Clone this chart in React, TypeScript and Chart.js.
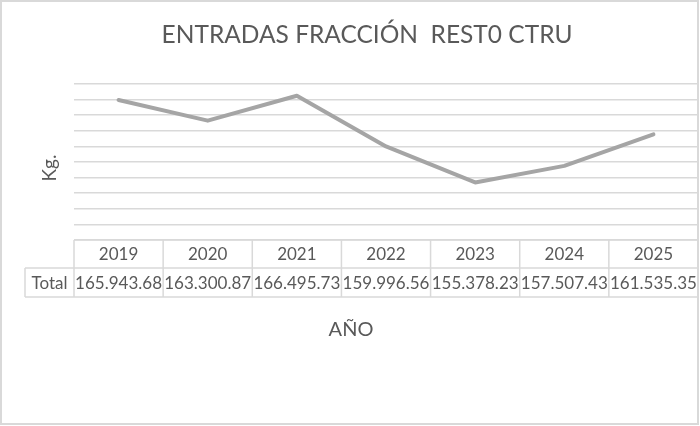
import React, { useEffect, useRef } from "react";
import { Chart, registerables } from "chart.js";

Chart.register(...registerables);

const years = ["2019", "2020", "2021", "2022", "2023", "2024", "2025"];
const totals = [165943.68, 163300.87, 166495.73, 159996.56, 155378.23, 157507.43, 161535.35];
const seriesLabel = "Total";
const chartTitle = "ENTRADAS FRACCIÓN  REST0 CTRU";
const yTitle = "Kg.";
const xTitle = "AÑO";
const yMin = 148000;
const yMax = 168000;
const yStep = 2000;

const FONT = "Lato, 'Open Sans', sans-serif";
const TEXT = "#595959";
const GRID = "#d9d9d9";

function fmt(v: number): string {
  const [i, d] = v.toFixed(2).split(".");
  const withSep = i.replace(/\B(?=(\d{3})+(?!\d))/g, ".");
  return withSep + "." + d;
}

const decorPlugin = {
  id: "decor",
  beforeDraw(chart: any) {
    const ctx = chart.ctx;
    ctx.save();
    ctx.fillStyle = "#ffffff";
    ctx.fillRect(0, 0, chart.width, chart.height);
    ctx.restore();
  },
  afterDraw(chart: any) {
    const ctx = chart.ctx;
    const area = chart.chartArea;
    const n = years.length;
    const colW = (area.right - area.left) / n;
    const r0 = area.bottom;
    const r1 = r0 + 28;
    const r2 = r1 + 29;
    const labelLeft = 25;
    ctx.save();
    // table borders
    ctx.strokeStyle = GRID;
    ctx.lineWidth = 1.5;
    ctx.beginPath();
    ctx.moveTo(area.left, r0);
    ctx.lineTo(area.right, r0);
    ctx.moveTo(labelLeft, r1);
    ctx.lineTo(area.right, r1);
    ctx.moveTo(labelLeft, r2);
    ctx.lineTo(area.right, r2);
    ctx.moveTo(labelLeft, r1);
    ctx.lineTo(labelLeft, r2);
    for (let i = 0; i <= n; i++) {
      const x = area.left + i * colW;
      ctx.moveTo(x, r0);
      ctx.lineTo(x, r2);
    }
    ctx.stroke();

    // table texts
    ctx.fillStyle = TEXT;
    ctx.textAlign = "center";
    ctx.textBaseline = "middle";
    ctx.font = `17px ${FONT}`;
    const xs = chart.scales.x;
    years.forEach((y, i) => {
      const cx = xs.getPixelForValue(i);
      ctx.fillText(y, cx, (r0 + r1) / 2 + 1);
      ctx.fillText(fmt(totals[i]), cx, (r1 + r2) / 2 + 1);
    });
    ctx.fillText(seriesLabel, (labelLeft + area.left) / 2, (r1 + r2) / 2 + 1);

    // titles
    ctx.font = `24.5px ${FONT}`;
    ctx.fillText(chartTitle, 367, 35);
    ctx.font = `20px ${FONT}`;
    ctx.fillText(xTitle, 351, 330);
    ctx.save();
    ctx.translate(50, 168);
    ctx.rotate(-Math.PI / 2);
    ctx.font = `19px ${FONT}`;
    ctx.fillText(yTitle, 0, 0);
    ctx.restore();

    // outer frame
    ctx.strokeStyle = GRID;
    ctx.lineWidth = 2;
    ctx.strokeRect(1, 1, 697, 423);
    ctx.restore();
  },
};

export default function App() {
  const ref = useRef<HTMLCanvasElement>(null);
  useEffect(() => {
    document.body.style.margin = "0";
    const canvas = ref.current;
    if (!canvas) return;
    const chart = new Chart(canvas, {
      type: "line",
      data: {
        labels: years,
        datasets: [
          {
            label: seriesLabel,
            data: totals,
            borderColor: "#a5a5a5",
            borderWidth: 4,
            pointRadius: 0,
            pointHoverRadius: 0,
            borderCapStyle: "round",
            borderJoinStyle: "round",
            tension: 0,
            fill: false,
          },
        ],
      },
      options: {
        responsive: false,
        animation: false,
        events: [],
        layout: { padding: { left: 74, right: 2, top: 84, bottom: 426 - 240 } },
        plugins: {
          legend: { display: false },
          title: { display: false },
          tooltip: { enabled: false },
        },
        scales: {
          x: {
            type: "category",
            display: false,
            offset: true,
          },
          y: {
            min: yMin,
            max: yMax,
            ticks: { display: false, stepSize: yStep },
            border: { display: false },
            grid: { color: GRID, lineWidth: 1.5, drawTicks: false },
          },
        },
      },
      plugins: [decorPlugin],
    });
    return () => chart.destroy();
  }, []);
  return <canvas ref={ref} width={700} height={426} style={{ display: "block" }} />;
}
